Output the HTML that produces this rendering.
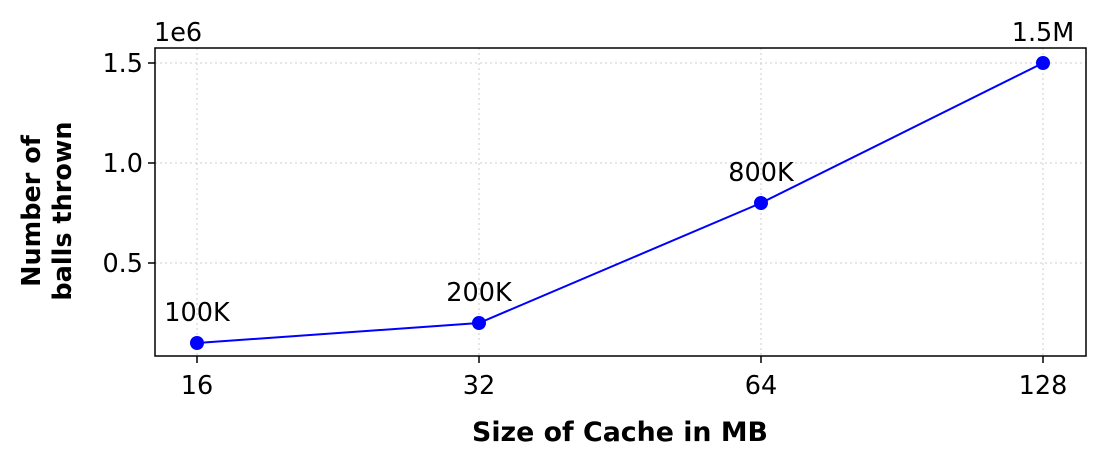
<!DOCTYPE html>
<html><head><meta charset="utf-8"><style>
body{margin:0;background:#fff;}
svg{display:block;font-family:"DejaVu Sans","Liberation Sans",sans-serif;}
</style></head><body>
<svg id="chart" width="1105" height="464">
<rect x="0" y="0" width="1105" height="464" fill="#fff"/>
<g id="grid"></g>
<g id="ticks"></g>
<g id="series"></g>
<rect x="155" y="48" width="931" height="308" fill="none" stroke="#000" stroke-width="1.5"/>
<text x="154" y="41" font-size="25.5">1e6</text>
<text x="620" y="441" font-size="26.8" font-weight="bold" text-anchor="middle">Size of Cache in MB</text>
<text transform="translate(40,211) rotate(-90)" font-size="25.5" font-weight="bold" text-anchor="middle"><tspan x="0" dy="0">Number of</tspan><tspan x="0" dy="31">balls thrown</tspan></text>
</svg>
<script>
const categories = ["16","32","64","128"];
const values = [100000,200000,800000,1500000];
const pointLabels = ["100K","200K","800K","1.5M"];
const yTicks = [500000,1000000,1500000];
const yTickLabels = ["0.5","1.0","1.5"];

const NS="http://www.w3.org/2000/svg";
function xScale(i){return 197 + i*282;}
function yScale(v){return 363 - v/1000000*200;}
function mk(tag,attrs,parent){const e=document.createElementNS(NS,tag);for(const k in attrs)e.setAttribute(k,attrs[k]);parent.appendChild(e);return e;}
const grid=document.getElementById('grid'),ticks=document.getElementById('ticks'),series=document.getElementById('series');

categories.forEach((c,i)=>{
  const x=xScale(i);
  const g=mk('line',{x1:x,x2:x,y1:48,y2:356,stroke:'#ccc','stroke-dasharray':'2,3'},grid);
  
  
  mk('line',{x1:x,x2:x,y1:356,y2:363,stroke:'#000','stroke-width':1.5},ticks);
  const t=mk('text',{x:x,y:394,'font-size':25.5,'text-anchor':'middle'},ticks);
  t.textContent=c;
  
  
});
yTicks.forEach((v,i)=>{
  const y=yScale(v);
  const g=mk('line',{x1:155,x2:1086,y1:y,y2:y,stroke:'#ccc','stroke-dasharray':'2,3'},grid);
  
  
  mk('line',{x1:148,x2:155,y1:y,y2:y,stroke:'#000','stroke-width':1.5},ticks);
  const t=mk('text',{x:143,y:y+9,'font-size':25.5,'text-anchor':'end'},ticks);
  t.textContent=yTickLabels[i];
  
  
});
const pts=values.map((v,i)=>xScale(i)+','+yScale(v)).join(' ');
const line=mk('polyline',{points:pts,fill:'none',stroke:'#0000ff','stroke-width':2},series);


values.forEach((v,i)=>{
  const c=mk('circle',{cx:xScale(i),cy:yScale(v),r:7,fill:'#0000ff'},series);
  
  
  const t=mk('text',{x:xScale(i),y:yScale(v)-22,'font-size':25.5,'text-anchor':'middle'},series);
  t.textContent=pointLabels[i];
  
  
});
</script>
</body></html>
